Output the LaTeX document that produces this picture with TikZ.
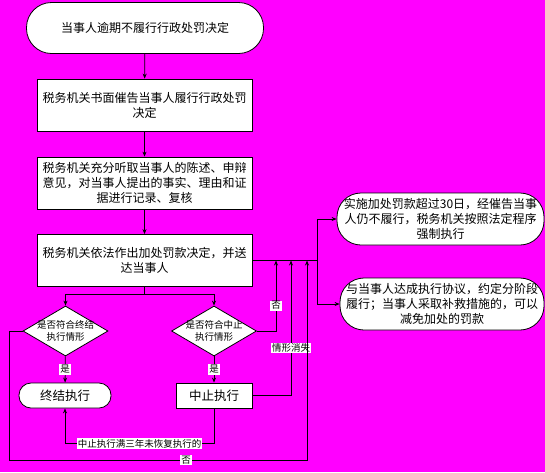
\documentclass[tikz,border=0pt]{standalone}
\usepackage{fontspec}
\newfontfamily\zhfont{Noto Sans CJK SC}
\usetikzlibrary{shapes.geometric,arrows.meta,positioning}
\definecolor{bgmag}{RGB}{255,0,255}

\begin{document}
\begin{tikzpicture}[x=1pt, y=-1pt,
    procbox/.style={rectangle, draw, fill=white, line width=0.8pt, minimum width=215pt, minimum height=52pt, align=center, inner sep=1pt, font=\zhfont\fontsize{12}{15}\selectfont},
    startnode/.style={rectangle, rounded corners=25pt, draw, fill=white, line width=0.8pt, minimum width=237pt, minimum height=51pt, font=\zhfont\fontsize{12}{15}\selectfont},
    decide/.style={diamond, draw, fill=white, line width=0.8pt, shape aspect=1.7, minimum width=85pt, minimum height=50pt, inner sep=-2pt, align=center, font=\zhfont\fontsize{9.5}{12}\selectfont},
    endnode/.style={rectangle, rounded corners=12pt, draw, fill=white, line width=0.8pt, minimum width=92pt, minimum height=25pt, font=\zhfont\fontsize{12.5}{15}\selectfont},
    stopbox/.style={rectangle, draw, fill=white, line width=0.8pt, minimum width=76pt, minimum height=25pt, font=\zhfont\fontsize{12.5}{15}\selectfont},
    note/.style={rectangle, rounded corners=24pt, draw, fill=white, line width=0.8pt, minimum height=52pt, align=center, inner sep=0pt, font=\zhfont\fontsize{12}{15}\selectfont},
    lbl/.style={fill=white, inner sep=1pt, font=\zhfont\fontsize{9.5}{11}\selectfont},
    line/.style={line width=0.8pt},
    arr/.style={-{Stealth[length=5pt, width=4pt]}, line width=0.8pt}
]

% background
\fill[bgmag] (0,0) rectangle (545,472);
\useasboundingbox (0,0) rectangle (545,472);

% Main column
\node[startnode] (start) at (145, 28) {当事人逾期不履行行政处罚决定};
\node[procbox] (urge) at (144.5, 105) {税务机关书面催告当事人履行行政处罚\\决定};
\node[procbox] (hear) at (144.5, 183) {税务机关充分听取当事人的陈述、申辩\\意见，对当事人提出的事实、理由和证\\据进行记录、复核};
\node[procbox] (fine) at (144.5, 260.5) {税务机关依法作出加处罚款决定，并送\\达当事人};

% Decisions
\node[decide] (endq) at (65.5, 331) {是否符合终结\\执行情形};
\node[decide] (stopq) at (214, 331) {是否符合中止\\执行情形};
\node[endnode] (ended) at (65, 395.5) {终结执行};
\node[stopbox] (stopped) at (214, 395.5) {中止执行};

% Right notes
\node[note, minimum width=207pt] (force) at (440.5, 219) {实施加处罚款超过30日，经催告当事\\人仍不履行，税务机关按照法定程序\\强制执行};
\node[note, minimum width=204pt] (relief) at (442, 304) {与当事人达成执行协议，约定分阶段\\履行；当事人采取补救措施的，可以\\减免加处的罚款};

% Junction points
\coordinate (hub) at (317, 260.5);
\coordinate (up1) at (276, 260.5);
\coordinate (up2) at (291, 260.5);
\coordinate (up3) at (307, 260.5);
\coordinate (corner) at (9, 460);

% Edges
\foreach \a/\b in {start/urge, urge/hear, hear/fine}
  \draw[arr] (\a) -- (\b);
\draw[arr] (fine.south) -- ++(0,7.5) -| (endq.north);
\draw[arr] (fine.south) -- ++(0,7.5) -| (stopq.north);
\draw[arr] (endq) -- node[lbl] {是} (ended);
\draw[arr] (stopq) -- node[lbl] {是} (stopped);

\draw[line] (fine.east) -- (hub);
\draw[arr] (hub) |- (force.west);
\draw[arr] (hub) |- (relief.west);

\draw[arr] (stopq.east) -| node[lbl, pos=0.68] {否} (up1);
\draw[arr] (stopped.east) -| node[lbl, pos=0.676] {情形消失} (up2);
\draw[arr] (endq.west) -| (corner) -| node[lbl, pos=0.297] {否} (up3);
\draw[arr] (stopped.south) -- ++(0,35) -| node[lbl, pos=0.25] {中止执行满三年未恢复执行的} (ended.south);

\end{tikzpicture}
\end{document}
